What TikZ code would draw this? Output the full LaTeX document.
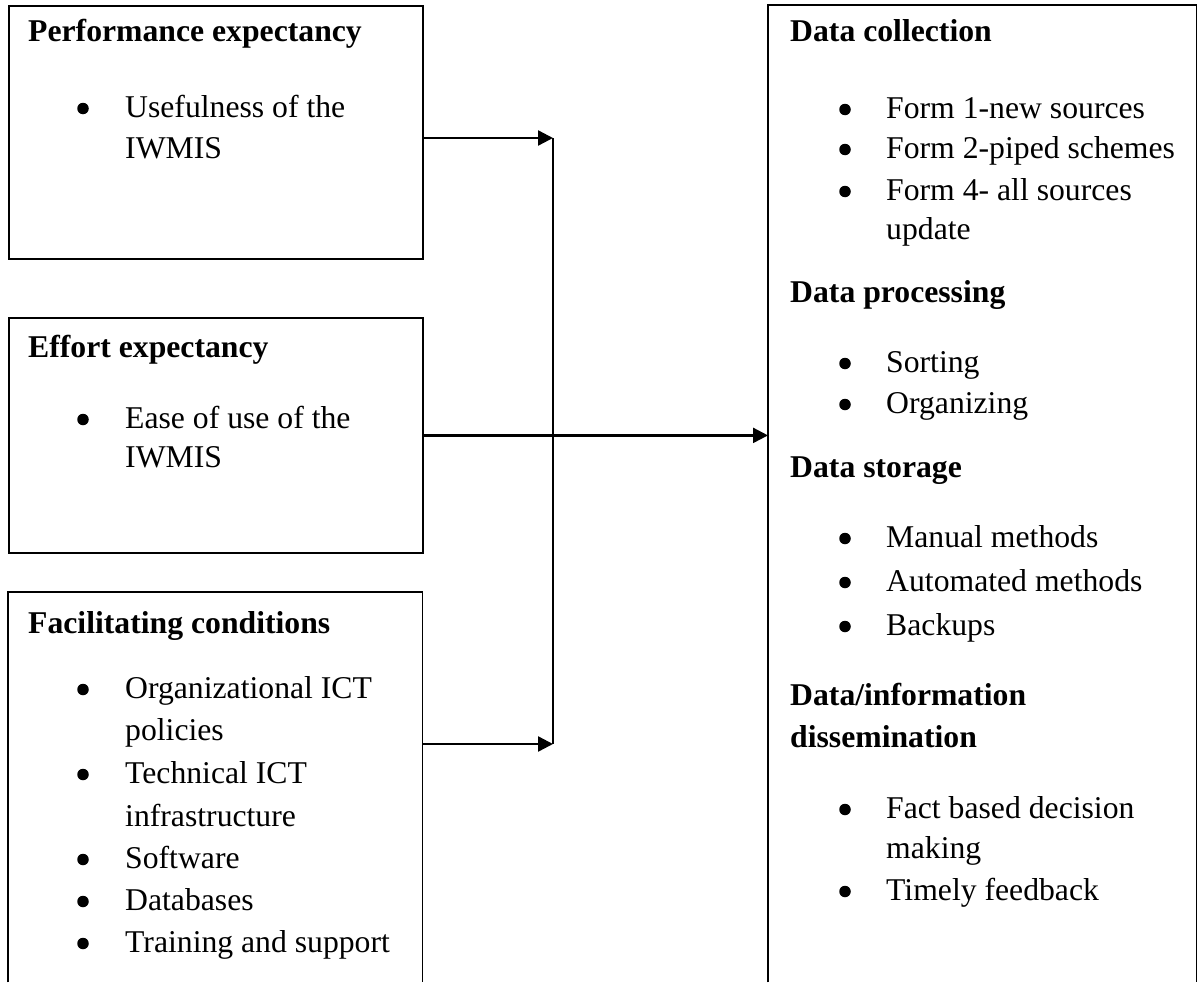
\documentclass[tikz,border=0pt]{standalone}
\usepackage{fontspec}
\setmainfont{Liberation Serif}
\usetikzlibrary{arrows.meta}
\newcommand\bodysize{\fontsize{31.7}{43}\selectfont}
\tikzset{
  box/.style={draw, line width=1.8pt, anchor=north west, inner sep=0pt},
  openbox/.style={anchor=north west, inner sep=0pt},
  boxedge/.style={line width=1.8pt},
  hd/.style={anchor=base west, inner sep=0pt, font=\bodysize\bfseries},
  tx/.style={anchor=base west, inner sep=0pt, font=\bodysize},
  bul/.style={circle, fill=black, inner sep=0pt, minimum size=11.5pt, yshift=8.5pt},
  arr/.style={line width=2.4pt, -{Triangle[length=15pt,width=15pt]}},
  conn/.style={line width=2.2pt}
}
\begin{document}
\begin{tikzpicture}[x=1pt,y=-1pt]
\useasboundingbox (0,0) rectangle (1204,982);
\fill[white] (0,0) rectangle (1204,982);

% left boxes
\node[box, minimum width=414pt, minimum height=253pt] (b1) at (8,5) {};
\node[box, minimum width=414pt, minimum height=235pt] (b2) at (8,317) {};
\node[openbox, minimum width=414pt, minimum height=390pt] (b3) at (8,592) {};
\draw[boxedge] (b3.south west) -- (b3.north west) -- (b3.north east) -- (b3.south east);

% right box
\node[openbox, minimum width=428pt, minimum height=977pt] (R) at (768,5) {};
\draw[boxedge] (R.south west) -- (R.north west) -- (R.north east) -- (R.south east);

% box 1 text
\node[hd] (h1) at (28,42) {Performance expectancy};
\node[bul] (u1) at (83,117) {};
\node[tx] (t1a) at (125,117) {Usefulness of the};
\node[tx] (t1b) at (125,158) {IWMIS};

% box 2 text
\node[hd] (h2) at (28,357) {Effort expectancy};
\node[bul] (u2) at (83,428) {};
\node[tx] (t2a) at (125,428) {Ease of use of the};
\node[tx] (t2b) at (125,467) {IWMIS};

% box 3 text
\node[hd] (h3) at (28,633) {Facilitating conditions};
\node[bul] (u3a) at (83,698) {};
\node[tx] (t3a) at (125,698) {Organizational ICT};
\node[tx] (t3b) at (125,740) {policies};
\node[bul] (u3b) at (83,783) {};
\node[tx] (t3c) at (125,783) {Technical ICT};
\node[tx] (t3d) at (125,826) {infrastructure};
\node[bul] (u3c) at (83,868) {};
\node[tx] (t3e) at (125,868) {Software};
\node[bul] (u3d) at (83,910) {};
\node[tx] (t3f) at (125,910) {Databases};
\node[bul] (u3e) at (83,952) {};
\node[tx] (t3g) at (125,952) {Training and support};

% right box text
\node[hd] (rh1) at (790,42) {Data collection};
\node[bul] (ru1) at (845,118) {};
\node[tx] (rt1) at (886,118) {Form 1-new sources};
\node[bul] (ru2) at (845,158) {};
\node[tx] (rt2) at (886,158) {Form 2-piped schemes};
\node[bul] (ru3) at (845,200) {};
\node[tx] (rt3) at (886,200) {Form 4- all sources};
\node[tx] (rt3b) at (886,239) {update};

\node[hd] (rh2) at (790,302) {Data processing};
\node[bul] (ru4) at (845,372) {};
\node[tx] (rt4) at (886,372) {Sorting};
\node[bul] (ru5) at (845,413) {};
\node[tx] (rt5) at (886,413) {Organizing};

\node[hd] (rh3) at (790,477) {Data storage};
\node[bul] (ru6) at (845,547) {};
\node[tx] (rt6) at (886,547) {Manual methods};
\node[bul] (ru7) at (845,591) {};
\node[tx] (rt7) at (886,591) {Automated methods};
\node[bul] (ru8) at (845,635) {};
\node[tx] (rt8) at (886,635) {Backups};

\node[hd] (rh4) at (790,705) {Data/information};
\node[hd] (rh4b) at (790,747) {dissemination};
\node[bul] (ru9) at (845,818) {};
\node[tx] (rt9) at (886,818) {Fact based decision};
\node[tx] (rt9b) at (886,858) {making};
\node[bul] (ru10) at (845,900) {};
\node[tx] (rt10) at (886,900) {Timely feedback};

% connectors
\coordinate (j1) at (553,138);
\coordinate (j3) at (553,744);
\draw[conn] (j1) -- (j3);
\draw[arr] (j1 -| b1.east) -- (j1);
\draw[arr] (j3 -| b3.east) -- (j3);
\draw[arr] (b2.east) -- (b2.east -| R.west);
\end{tikzpicture}
\end{document}
